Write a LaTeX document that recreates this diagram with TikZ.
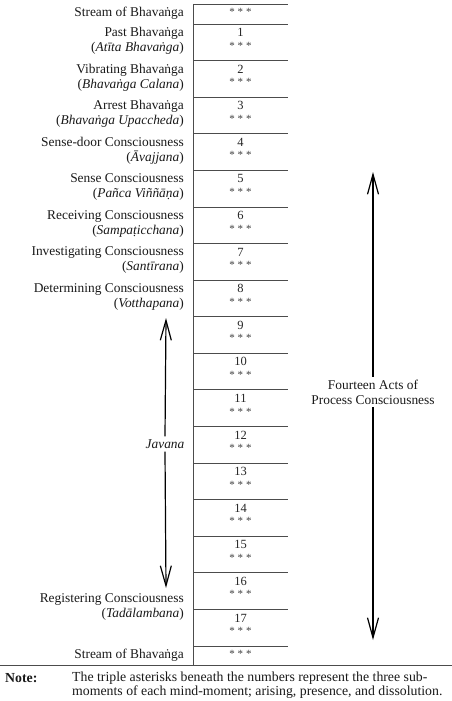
\documentclass[tikz,border=0pt]{standalone}
\usepackage{fontspec}
\setmainfont{Liberation Serif}
\usetikzlibrary{arrows.meta}
\begin{document}
\begin{tikzpicture}[x=1pt,y=-1pt,
  rule/.style={draw=black!70, line width=0.9pt},
  lab/.style={anchor=east, align=right, font=\fontsize{13.4}{15}\selectfont, inner sep=0pt, text=black!90},
  num/.style={font=\fontsize{12.5}{14}\selectfont, inner sep=0pt, text=black!85},
  starsty/.style={font=\fontsize{11}{11}\selectfont, inner sep=0pt, text=black!75},
  gaplab/.style={align=center, font=\fontsize{13.4}{15}\selectfont, inner sep=3pt, text=black!90},
  barb/.style={line width=1.2pt, -{Straight Barb[length=20pt,width=11pt,line width=1.2pt]}},
  notesty/.style={anchor=west, font=\fontsize{13.8}{15}\selectfont, inner sep=0pt, text=black!90}
]
\useasboundingbox (0,0) rectangle (452,701);
\newcommand{\trip}{*\hspace{3pt}*\hspace{3pt}*}

% table lines
\draw[rule] (193,4) -- (288,4);
\foreach \k in {1,...,18} {
  \draw[rule] (193,{24+36.59*(\k-1)}) -- (288,{24+36.59*(\k-1)});
}
\draw[rule] (193,4) -- (193,665);
\draw[rule] (0,665) -- (452,665);

% numbers and stars
\node[starsty] (s0) at (240.5,11.5) {\trip};
\foreach \k in {1,...,17} {
  \node[num] (n\k) at (240.5,{24+36.59*(\k-1)+8.5}) {\k};
  \node[starsty] (s\k) at (240.5,{24+36.59*(\k-1)+21.5}) {\trip};
}
\node[starsty] (s18) at (240.5,653.5) {\trip};

% labels
\node[lab] (l0) at (184,13) {Stream of Bhavaṅga};
\node[lab] (l1) at (184,{24+36.59*0+16.8}) {Past Bhavaṅga\\(\textit{Atīta Bhavaṅga})};
\node[lab] (l2) at (184,{24+36.59*1+16.8}) {Vibrating Bhavaṅga\\(\textit{Bhavaṅga Calana})};
\node[lab] (l3) at (184,{24+36.59*2+16.8}) {Arrest Bhavaṅga\\(\textit{Bhavaṅga Upaccheda})};
\node[lab] (l4) at (184,{24+36.59*3+16.8}) {Sense-door Consciousness\\(\textit{Āvajjana})};
\node[lab] (l5) at (184,{24+36.59*4+16.8}) {Sense Consciousness\\(\textit{Pañca Viññāṇa})};
\node[lab] (l6) at (184,{24+36.59*5+16.8}) {Receiving Consciousness\\(\textit{Sampaṭicchana})};
\node[lab] (l7) at (184,{24+36.59*6+16.8}) {Investigating Consciousness\\(\textit{Santīrana})};
\node[lab] (l8) at (184,{24+36.59*7+16.8}) {Determining Consciousness\\(\textit{Votthapana})};
\node[lab] (l16) at (184,607) {Registering Consciousness\\(\textit{Tadālambana})};
\node[lab] (l18) at (184,655) {Stream of Bhavaṅga};

% Javana arrow
\coordinate (jtop) at (166,318);
\coordinate (jbot) at (166,588);
\node[gaplab] (jav) at (165,444) {\textit{Javana}};
\draw[barb] (jav.north) -- (jtop);
\draw[barb] (jav.south) -- (jbot);

% Fourteen acts arrow
\coordinate (ftop) at (373,172);
\coordinate (fbot) at (373,640);
\node[gaplab] (four) at (373,392) {Fourteen Acts of\\Process Consciousness};
\draw[barb] (four.north) -- (ftop);
\draw[barb] (four.south) -- (fbot);

% note
\node[notesty] (notehd) at (5,678) {\textbf{Note:}};
\node[notesty] (note1) at (72,678) {The triple asterisks beneath the numbers represent the three sub-};
\node[notesty] (note2) at (72,692) {moments of each mind-moment; arising, presence, and dissolution.};
\end{tikzpicture}
\end{document}
